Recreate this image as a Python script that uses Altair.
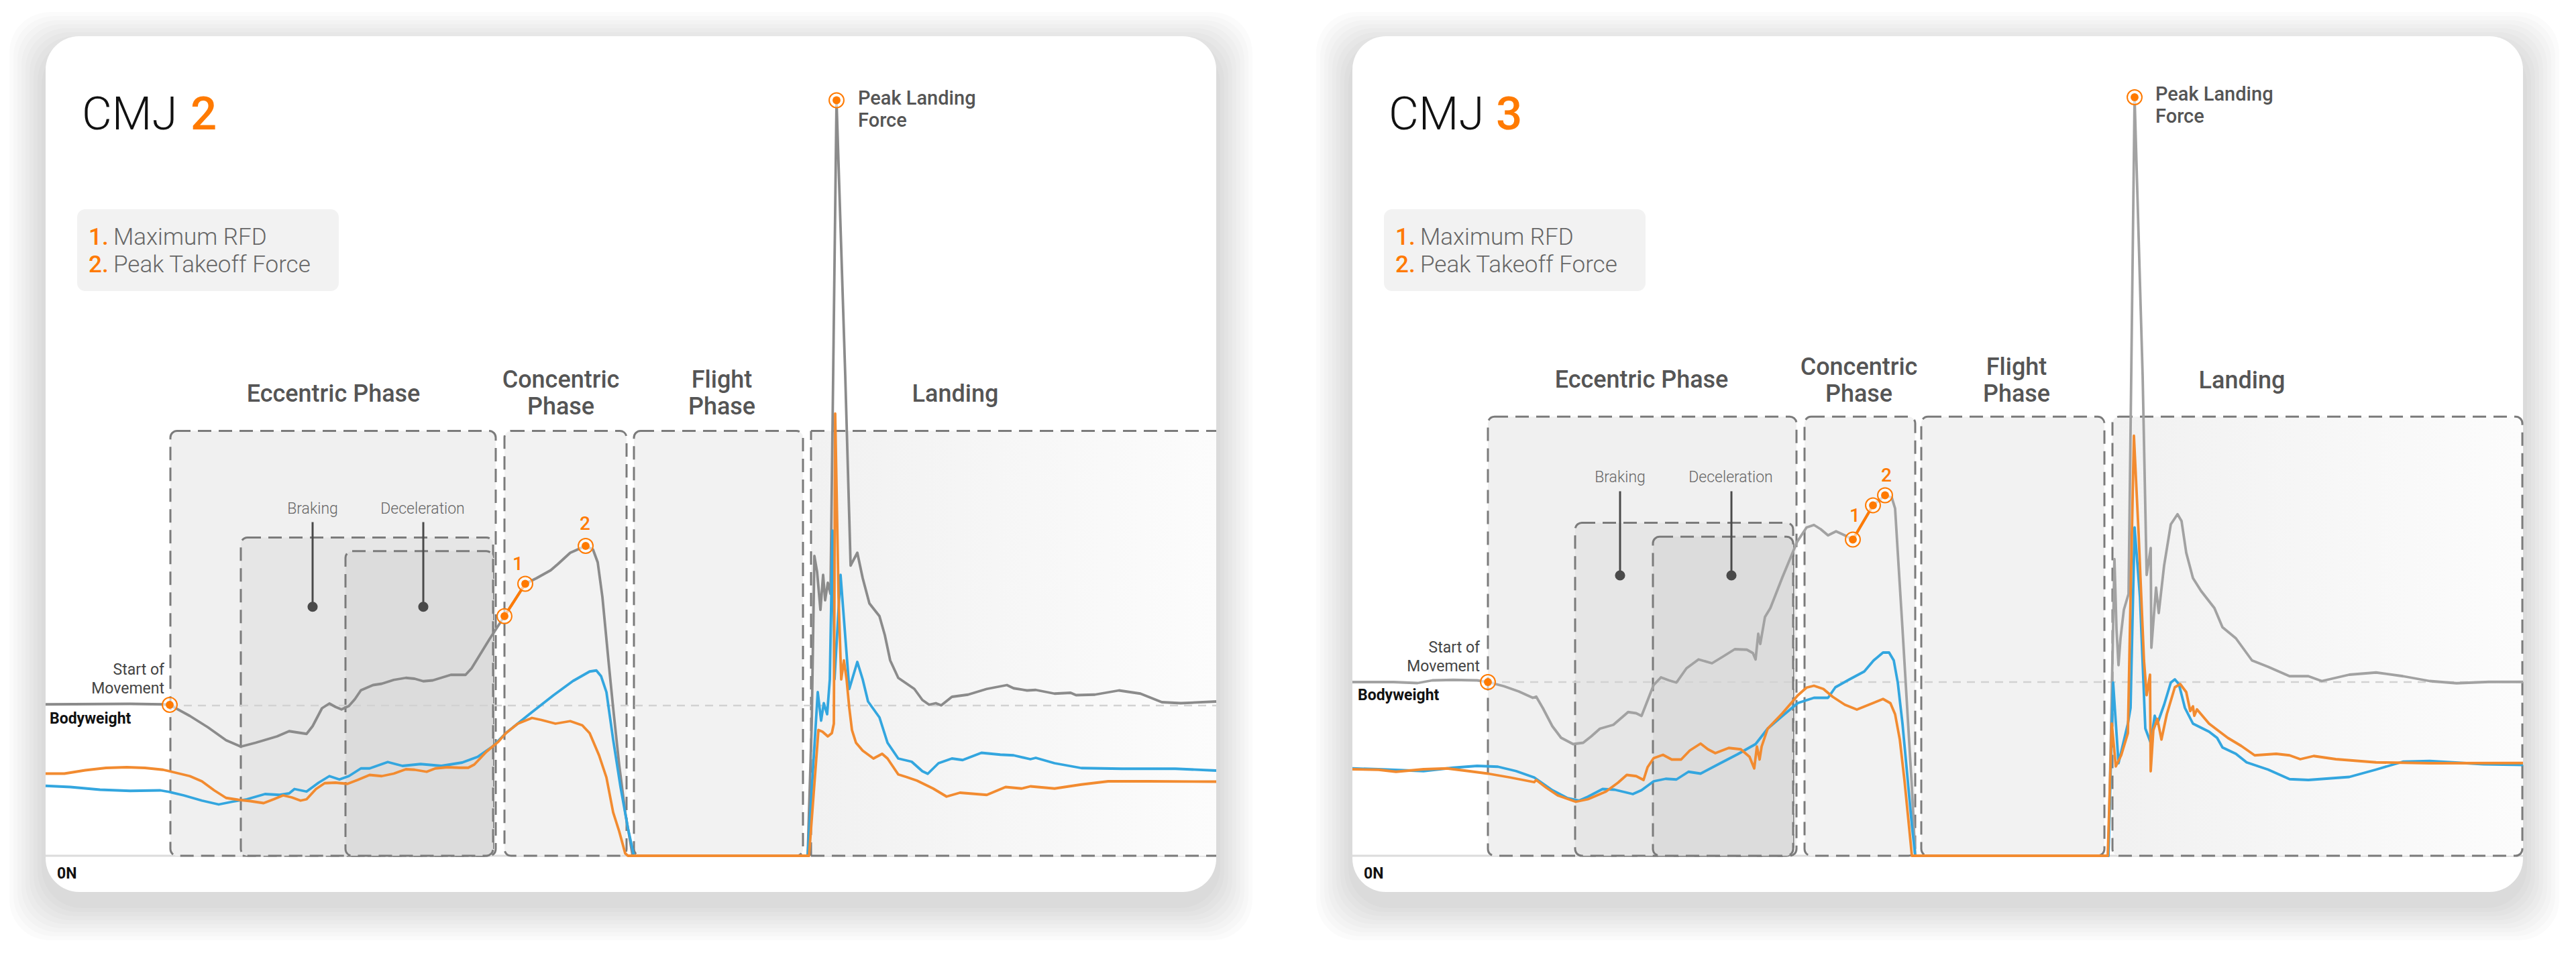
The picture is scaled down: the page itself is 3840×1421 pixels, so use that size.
import altair as alt
import pandas as pd

# -----------------------------
# Data: t = ms from the card's left edge, F = force in N
# -----------------------------
CMJ2_TOTAL = [
    (0, 903), (126, 906), (175, 903), (185, 900), (215, 834), (242, 766), (269, 689), (291, 651),
    (313, 674), (345, 712), (363, 743), (376, 735), (389, 727), (398, 773), (412, 880), (423, 908),
    (432, 888), (441, 873), (452, 893), (461, 934), (470, 987), (488, 1018), (501, 1026), (519, 1049),
    (537, 1061), (550, 1056), (563, 1041), (577, 1046), (604, 1079), (626, 1079), (635, 1118),
    (662, 1294), (684, 1429), (715, 1622), (732, 1656), (753, 1703), (764, 1741), (782, 1807),
    (805, 1848), (816, 1826), (823, 1750), (830, 1543), (839, 1165), (846, 882), (855, 542),
    (864, 259), (875, 0), (1136, 0), (1142, 788), (1146, 1788), (1150, 1694), (1155, 1467),
    (1159, 1675), (1162, 1524), (1166, 1628), (1170, 1562), (1179, 4506), (1192, 2864), (1200, 1731),
    (1210, 1807), (1218, 1656), (1228, 1505), (1243, 1429), (1251, 1316), (1259, 1165), (1271, 1061),
    (1295, 995), (1307, 929), (1317, 901), (1327, 910), (1335, 897), (1351, 948), (1375, 961),
    (1403, 995), (1433, 1018), (1443, 999), (1463, 986), (1476, 989), (1504, 967), (1528, 972),
    (1536, 958), (1564, 961), (1600, 986), (1632, 967), (1664, 916), (1692, 910), (1745, 920),
]
CMJ2_RIGHT = [
    (0, 490), (28, 490), (59, 510), (90, 524), (121, 528), (148, 524), (175, 513), (188, 501),
    (215, 475), (233, 444), (251, 391), (269, 345), (287, 334), (305, 326), (325, 314), (340, 337),
    (354, 360), (367, 348), (380, 329), (389, 337), (403, 398), (416, 433), (432, 436), (450, 429),
    (465, 452), (483, 482), (501, 475), (519, 490), (537, 516), (550, 513), (568, 501), (581, 521),
    (599, 528), (617, 525), (630, 525), (639, 544), (657, 620), (675, 681), (686, 731), (704, 788),
    (725, 822), (739, 810), (760, 788), (782, 803), (800, 778), (811, 731), (825, 599), (836, 467),
    (846, 259), (855, 146), (864, 14), (868, 0), (1138, 0), (1152, 750), (1158, 740), (1166, 712),
    (1172, 731), (1175, 788), (1177, 2637), (1182, 1543), (1186, 1052), (1190, 1165), (1194, 1052),
    (1198, 882), (1202, 750), (1208, 674), (1218, 627), (1234, 580), (1247, 608), (1255, 580),
    (1271, 485), (1283, 470), (1299, 448), (1323, 401), (1343, 353), (1363, 376), (1403, 363),
    (1431, 410), (1455, 401), (1468, 414), (1504, 401), (1544, 425), (1584, 444), (1644, 444),
    (1745, 442),
]
CMJ2_LEFT = [
    (0, 417), (37, 410), (81, 394), (126, 387), (171, 390), (184, 381), (206, 360), (233, 329),
    (258, 306), (278, 322), (300, 337), (327, 368), (349, 363), (363, 372), (371, 398), (389, 383),
    (407, 436), (423, 475), (438, 455), (452, 475), (470, 521), (483, 521), (510, 559), (532, 536),
    (559, 547), (590, 536), (621, 556), (644, 590), (666, 651), (686, 731), (721, 844), (757, 957),
    (786, 1042), (811, 1099), (821, 1105), (828, 1071), (836, 976), (846, 693), (857, 410),
    (868, 165), (877, 0), (1136, 0), (1151, 976), (1156, 806), (1160, 910), (1165, 844), (1169, 1052),
    (1173, 1939), (1176, 1052), (1185, 1675), (1198, 995), (1210, 1156), (1218, 1052), (1226, 920),
    (1243, 825), (1255, 674), (1271, 580), (1291, 561), (1307, 504), (1315, 489), (1331, 552),
    (1351, 580), (1367, 571), (1395, 614), (1423, 603), (1443, 599), (1468, 576), (1476, 584),
    (1504, 552), (1544, 523), (1604, 519), (1684, 519), (1745, 508),
]

CMJ3_TOTAL = [
    (0, 1036), (61, 1036), (97, 1030), (119, 1046), (150, 1049), (186, 1046), (202, 1036), (226, 1011),
    (248, 980), (269, 942), (274, 949), (284, 880), (298, 773), (311, 704), (329, 666), (344, 674),
    (356, 712), (369, 758), (389, 781), (400, 819), (411, 857), (423, 850), (431, 834), (440, 926),
    (449, 1018), (460, 1064), (472, 1046), (483, 1033), (498, 1118), (516, 1171), (536, 1148),
    (552, 1187), (570, 1232), (588, 1229), (597, 1209), (601, 1171), (605, 1324), (608, 1263),
    (615, 1424), (623, 1477), (641, 1661), (663, 1873), (677, 1958), (688, 1973), (698, 1948),
    (709, 1911), (721, 1935), (734, 1911), (746, 1886), (776, 2090), (794, 2150), (804, 2137),
    (809, 2071), (813, 1807), (820, 1354), (827, 882), (834, 410), (839, 0), (1127, 0), (1132, 976),
    (1136, 1769), (1139, 1354), (1142, 1137), (1145, 1297), (1150, 1467), (1157, 1562), (1161, 2864),
    (1166, 4524), (1178, 2864), (1184, 1675), (1190, 1835), (1191, 1241), (1198, 1599), (1202, 1448),
    (1210, 1731), (1220, 1977), (1230, 2037), (1236, 1996), (1243, 1807), (1253, 1656), (1265, 1580),
    (1285, 1477), (1297, 1363), (1317, 1297), (1341, 1165), (1365, 1127), (1397, 1071), (1425, 1071),
    (1445, 1042), (1486, 1080), (1526, 1093), (1566, 1071), (1606, 1042), (1646, 1029), (1694, 1037),
    (1745, 1037),
]
CMJ3_RIGHT = [
    (0, 516), (39, 513), (65, 501), (106, 516), (141, 521), (173, 505), (202, 490), (235, 467),
    (271, 439), (274, 452), (289, 406), (306, 360), (333, 322), (351, 337), (378, 383), (396, 436),
    (409, 482), (423, 475), (434, 452), (440, 528), (449, 582), (463, 602), (476, 574), (490, 574),
    (503, 628), (519, 669), (530, 635), (541, 612), (561, 643), (579, 635), (592, 590), (599, 521),
    (603, 651), (607, 574), (610, 651), (619, 758), (641, 850), (664, 957), (677, 1003), (688, 1014),
    (702, 995), (716, 948), (734, 901), (752, 872), (770, 901), (791, 935), (802, 910), (809, 844),
    (816, 693), (823, 448), (830, 165), (834, 0), (1126, 0), (1132, 788), (1138, 533), (1146, 599),
    (1156, 731), (1160, 1543), (1165, 2505), (1172, 1920), (1180, 1165), (1184, 958), (1189, 1080),
    (1190, 504), (1194, 750), (1200, 816), (1206, 693), (1214, 844), (1226, 1005), (1234, 1024),
    (1243, 976), (1249, 863), (1253, 891), (1255, 835), (1259, 873), (1277, 788), (1305, 703),
    (1325, 655), (1345, 599), (1377, 608), (1397, 599), (1413, 576), (1433, 595), (1466, 576),
    (1526, 557), (1606, 552), (1745, 553),
]
CMJ3_LEFT = [
    (0, 521), (39, 516), (106, 505), (150, 525), (186, 536), (217, 531), (244, 505), (271, 467),
    (298, 391), (320, 345), (338, 329), (351, 352), (373, 398), (391, 394), (418, 368), (431, 391),
    (449, 444), (467, 459), (483, 455), (501, 501), (519, 490), (548, 551), (574, 605), (601, 666),
    (619, 758), (641, 834), (664, 911), (688, 942), (709, 942), (720, 1005), (741, 1052), (763, 1099),
    (777, 1165), (791, 1212), (800, 1212), (807, 1165), (813, 1033), (820, 788), (827, 486),
    (834, 183), (839, 0), (1127, 0), (1134, 1033), (1142, 552), (1156, 788), (1160, 882), (1166, 1958),
    (1174, 1543), (1182, 759), (1190, 674), (1196, 835), (1200, 788), (1210, 901), (1220, 1033),
    (1226, 1052), (1232, 1024), (1241, 882), (1253, 788), (1277, 740), (1289, 703), (1297, 646),
    (1317, 608), (1333, 557), (1365, 514), (1397, 457), (1425, 452), (1486, 470), (1526, 514),
    (1566, 561), (1606, 565), (1686, 546), (1745, 542),
]

CMJ2_BODYWEIGHT = 896
CMJ3_BODYWEIGHT = 1036

# phase boxes: name, start, end, top force
CMJ2_PHASES = [
    ("Eccentric", 186, 671, 2534), ("Braking", 291, 667, 1898), ("Deceleration", 447, 667, 1817),
    ("Concentric", 684, 866, 2534), ("Flight", 877, 1129, 2534),
]
CMJ3_PHASES = [
    ("Eccentric", 202, 662, 2619), ("Braking", 332, 657, 1986), ("Deceleration", 448, 657, 1903),
    ("Concentric", 674, 839, 2619), ("Flight", 848, 1121, 2619),
]
CMJ2_LANDING = (1141, 1745, 2534)
CMJ3_LANDING = (1133, 1744, 2619)

# start of movement, RFD start, RFD end (1), peak takeoff (2), peak landing
CMJ2_EVENTS = [(185, 900), (684, 1429), (715, 1622), (805, 1848), (1179, 4506)]
CMJ3_EVENTS = [(202, 1036), (746, 1886), (776, 2090), (794, 2150), (1166, 4524)]

LEGEND_ITEMS = ["Maximum RFD", "Peak Takeoff Force"]

FONT = "Roboto"
ORANGE = "#f28b30"
MARK_ORANGE = "#ff7a00"
BLUE = "#33a6df"
CARD_W = 1745
F_TOP, F_BOTTOM = 4888, -216
FILLS = {"Eccentric": "#f0f0f0", "Braking": "#e6e6e6", "Deceleration": "#dcdcdc",
         "Concentric": "#f2f2f2", "Flight": "#f2f2f2"}


def _card(num, total, left, right, bw, phases, landing, events, grey, x_dom, panel_w, open_landing,
          title_dx, phase_labels, sub_labels, start_lbl, bw_lbl, rfd_lbls, peak_lbl):
    xs = alt.Scale(domain=x_dom, nice=False, zero=False)
    ys = alt.Scale(domain=[-548, 5072], nice=False, zero=False)

    def X(f):
        return alt.X(f"{f}:Q", scale=xs, axis=None)

    def Y(f):
        return alt.Y(f"{f}:Q", scale=ys, axis=None)

    def rect(df, **style):
        return alt.Chart(df).mark_rect(**style).encode(x=X("t0"), x2="t1", y=Y("f0"), y2="f1")

    def seg(df, **style):
        return alt.Chart(df).mark_rule(**style).encode(x=X("t0"), x2="t1", y=Y("f0"), y2="f1")

    def txt(rows, **style):
        df = pd.DataFrame(rows, columns=["t", "F", "label"])
        return alt.Chart(df).mark_text(font=FONT, **style).encode(x=X("t"), y=Y("F"), text="label:N")

    def line(pts, color, width=3.8):
        df = pd.DataFrame(pts, columns=["t", "F"])
        df["i"] = range(len(df))
        return alt.Chart(df).mark_line(color=color, strokeWidth=width, strokeJoin="round").encode(
            x=X("t"), y=Y("F"), order="i:Q")

    layers = []

    # card shadow + card
    spread = [6, 12, 18, 24, 30, 36, 42, 48, 54]
    sh = pd.DataFrame({"t0": [-s for s in spread], "t1": [CARD_W + s for s in spread],
                       "f0": [F_BOTTOM - 4 * s - 72 for s in spread],
                       "f1": [F_TOP + 4 * s - 72 for s in spread]})
    layers.append(rect(sh, color="#000000", opacity=0.016, cornerRadius=60))
    card = pd.DataFrame({"t0": [0], "t1": [CARD_W], "f0": [F_BOTTOM], "f1": [F_TOP]})
    layers.append(rect(card, color="#ffffff", cornerRadius=50))

    # legend box
    lb = pd.DataFrame({"t0": [47], "t1": [437], "f0": [3368], "f1": [3856]})
    layers.append(rect(lb, color="#f2f2f2", cornerRadius=12))

    # 0N baseline
    layers.append(seg(pd.DataFrame({"t0": [0], "t1": [CARD_W], "f0": [0], "f1": [0]}),
                      color="#dcdcdc", strokeWidth=3))

    # phase boxes
    ph = pd.DataFrame(phases, columns=["name", "t0", "t1", "f1"])
    ph["f0"] = 0
    ph["fill"] = ph["name"].map(FILLS)
    layers.append(alt.Chart(ph).mark_rect(cornerRadius=10, stroke="#7b7b7b", strokeWidth=3,
                                          strokeDash=[20, 11]).encode(
        x=X("t0"), x2="t1", y=Y("f0"), y2="f1", fill=alt.Fill("fill:N", scale=None)))

    grad = alt.LinearGradient(gradient="linear", x1=0, x2=1, y1=0, y2=0,
                              stops=[alt.GradientStop(color="#f1f1f1", offset=0),
                                     alt.GradientStop(color="#fcfcfc", offset=1)])
    ld = pd.DataFrame({"t0": [landing[0]], "t1": [landing[1]], "f0": [0], "f1": [landing[2]]})
    if open_landing:
        layers.append(rect(ld, fill=grad))
        edges = pd.DataFrame({"t0": [landing[0], landing[0], landing[0]],
                              "t1": [landing[1], landing[1], landing[0]],
                              "f0": [landing[2], 0, 0], "f1": [landing[2], 0, landing[2]]})
        layers.append(seg(edges, color="#7b7b7b", strokeWidth=3, strokeDash=[20, 11]))
    else:
        layers.append(rect(ld, fill=grad, cornerRadius=10, stroke="#7b7b7b", strokeWidth=3,
                           strokeDash=[20, 11]))

    # bodyweight reference
    layers.append(seg(pd.DataFrame({"t0": [events[0][0]], "t1": [CARD_W], "f0": [bw], "f1": [bw]}),
                      color="#d2d2d2", strokeWidth=2.5, strokeDash=[12, 9]))

    # braking / deceleration pointers
    pt = pd.DataFrame(sub_labels["pointers"], columns=["t0", "f1", "f0"])
    pt["t1"] = pt["t0"]
    layers.append(seg(pt, color="#4a4a4a", strokeWidth=3))
    dots = pd.DataFrame({"t": pt["t0"], "F": pt["f0"]})
    layers.append(alt.Chart(dots).mark_circle(size=230, color="#4a4a4a", opacity=1).encode(
        x=X("t"), y=Y("F")))

    # force traces
    layers.append(line(total, grey))
    layers.append(line(left, BLUE))
    layers.append(line(right, ORANGE))
    layers.append(line(events[1:3], MARK_ORANGE, 4))

    # event markers
    ev = pd.DataFrame(events, columns=["t", "F"])
    layers.append(alt.Chart(ev).mark_point(shape="circle", size=480, filled=True, fill="#ffffff",
                                           fillOpacity=0.6, stroke=MARK_ORANGE, strokeWidth=2).encode(
        x=X("t"), y=Y("F")))
    layers.append(alt.Chart(ev).mark_circle(size=140, color=MARK_ORANGE, opacity=1).encode(
        x=X("t"), y=Y("F")))

    # texts
    layers.append(txt([(54, 4332, "CMJ")], fontSize=69, fontWeight=300, color="#111111",
                      align="left", baseline="alphabetic"))
    layers.append(txt([(title_dx, 4332, num)], fontSize=69, fontWeight=500, color=MARK_ORANGE,
                      align="left", baseline="alphabetic"))
    layers.append(txt([(64, 3644, "1."), (64, 3480, "2.")], fontSize=35, fontWeight=500,
                      color=MARK_ORANGE, align="left", baseline="alphabetic"))
    layers.append(txt([(101, 3644, LEGEND_ITEMS[0]), (101, 3480, LEGEND_ITEMS[1])], fontSize=35,
                      fontWeight=300, color="#666666", align="left", baseline="alphabetic"))
    layers.append(txt(phase_labels, fontSize=36, fontWeight=500, color="#555555", align="center",
                      baseline="middle"))
    layers.append(txt(sub_labels["labels"], fontSize=23, fontWeight=300, color="#666666",
                      align="center", baseline="middle"))
    layers.append(txt(start_lbl, fontSize=23, color="#444444", align="right", baseline="alphabetic"))
    layers.append(txt([bw_lbl], fontSize=23, fontWeight="bold", color="#111111", align="left",
                      baseline="alphabetic"))
    layers.append(txt([(17, -108, "0N")], fontSize=23, fontWeight="bold", color="#111111",
                      align="left", baseline="middle"))
    layers.append(txt(rfd_lbls, fontSize=28, fontWeight=500, color=MARK_ORANGE, align="center",
                      baseline="middle"))
    layers.append(txt(peak_lbl, fontSize=29, fontWeight=500, color="#555555", align="left",
                      baseline="middle"))

    return alt.layer(*layers).properties(width=panel_w, height=1405)


cmj2 = _card(
    "2", CMJ2_TOTAL, CMJ2_LEFT, CMJ2_RIGHT, CMJ2_BODYWEIGHT, CMJ2_PHASES, CMJ2_LANDING, CMJ2_EVENTS,
    "#8b8b8b", [-60, 1846], 1906, True, 216,
    [(429, 2752, "Eccentric Phase"), (768, 2836, "Concentric"), (768, 2678, "Phase"),
     (1008, 2836, "Flight"), (1008, 2678, "Phase"), (1356, 2752, "Landing")],
    {"labels": [(398, 2067, "Braking"), (562, 2067, "Deceleration")],
     "pointers": [(398, 1990, 1485), (563, 1990, 1485)]},
    [(177, 1080, "Start of"), (177, 969, "Movement")],
    (6, 788, "Bodyweight"),
    [(704, 1737, "1"), (804, 1977, "2")],
    [(1211, 4516, "Peak Landing"), (1211, 4384, "Force")],
)

cmj3 = _card(
    "3", CMJ3_TOTAL, CMJ3_LEFT, CMJ3_RIGHT, CMJ3_BODYWEIGHT, CMJ3_PHASES, CMJ3_LANDING, CMJ3_EVENTS,
    "#a2a2a2", [-102, 1816], 1918, False, 214,
    [(431, 2838, "Eccentric Phase"), (755, 2914, "Concentric"), (755, 2754, "Phase"),
     (990, 2914, "Flight"), (990, 2754, "Phase"), (1326, 2832, "Landing")],
    {"labels": [(399, 2258, "Braking"), (564, 2258, "Deceleration")],
     "pointers": [(399, 2174, 1672), (565, 2174, 1672)]},
    [(190, 1214, "Start of"), (190, 1102, "Movement")],
    (8, 929, "Bodyweight"),
    [(749, 2024, "1"), (796, 2264, "2")],
    [(1197, 4542, "Peak Landing"), (1197, 4408, "Force")],
)

chart = (
    alt.hconcat(cmj2, cmj3, spacing=0)
    .properties(padding=0)
    .configure(background="#ffffff")
    .configure_view(strokeWidth=0)
)

chart.save("out.html", embed_options={"renderer": "svg", "actions": False})
